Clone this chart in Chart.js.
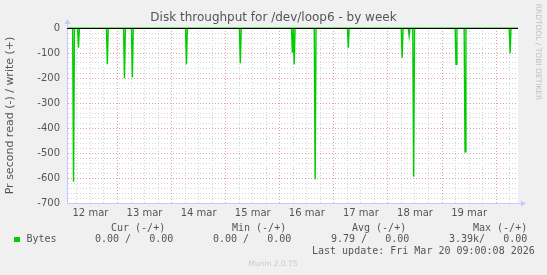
<!DOCTYPE html>
<html>
<head>
<meta charset="utf-8">
<script src="https://cdn.jsdelivr.net/npm/chart.js@4"></script>
<style>
  html, body { margin: 0; padding: 0; background: #f0f0f0; }
  #wrap { width: 547px; height: 275px; }
</style>
</head>
<body>
<div id="wrap"><canvas id="disk" width="547" height="275"></canvas></div>
<script>
// hours counted from 12 mar 00:00, read side drawn negative
const spikeHours = [4.5, 6.7, 19.5, 27.1, 30.6, 54.6, 78.5, 101.6, 102.4, 111.7, 126.4, 150.3, 153.4, 155.4, 174.2, 178.2, 198.2];
const readBytes  = [615, 79, 145, 201, 197, 145, 141, 99, 145, 605, 79, 119, 32, 595, 145, 495, 101];
const rangeHours = [1.6, 201.7];
const writeBytes = [0, 0];
const dayLabels = ['12 mar', '13 mar', '14 mar', '15 mar', '16 mar', '17 mar', '18 mar', '19 mar'];
const legendHead = ['Cur (-/+)', 'Min (-/+)', 'Avg (-/+)', 'Max (-/+)'];
const legendVals = ['0.00 /   0.00', '0.00 /   0.00', '9.79 /   0.00', '3.39k/   0.00'];

const GREEN = '#00cc00';
const AXIS = '#c8c8ff';

let readPoints = [{x: rangeHours[0], y: 0}];
spikeHours.forEach(function(h, i) {
    readPoints.push({x: h - 0.4, y: 0}, {x: h, y: -readBytes[i]}, {x: h + 0.4, y: 0});
});
readPoints.push({x: rangeHours[1], y: 0});
let writePoints = rangeHours.map(function(h, i) { return {x: h, y: writeBytes[i]}; });

const muninDeco = {
    id: 'muninDeco',
    beforeDraw: function(chart) {
        let c = chart.ctx, a = chart.chartArea;
        c.save();
        c.fillStyle = '#f0f0f0';
        c.fillRect(0, 0, chart.width, chart.height);
        c.fillStyle = '#ffffff';
        c.fillRect(a.left, a.top, a.right - a.left, a.bottom - a.top);
        c.restore();
    },
    afterDatasetsDraw: function(chart) {
        let c = chart.ctx, a = chart.chartArea;
        let y0 = Math.round(chart.scales.y.getPixelForValue(0)) + 0.5;
        c.save();
        c.strokeStyle = '#000';
        c.lineWidth = 1;
        c.beginPath();
        c.moveTo(a.left, y0);
        c.lineTo(a.right, y0);
        c.stroke();
        // axis arrows
        let xl = Math.round(a.left) + 0.5, yb = Math.round(a.bottom) + 0.5;
        c.strokeStyle = AXIS;
        c.fillStyle = AXIS;
        c.beginPath();
        c.moveTo(xl, a.top); c.lineTo(xl, a.top - 5);
        c.moveTo(a.right, yb); c.lineTo(a.right + 4, yb);
        c.stroke();
        c.beginPath();
        c.moveTo(xl - 3, a.top - 4); c.lineTo(xl + 3, a.top - 4); c.lineTo(xl, a.top - 9); c.closePath();
        c.moveTo(a.right + 3, yb - 3); c.lineTo(a.right + 3, yb + 3); c.lineTo(a.right + 8, yb); c.closePath();
        c.fill();
        c.restore();
    },
    afterDraw: function(chart) {
        let c = chart.ctx;
        c.save();
        c.textBaseline = 'middle';
        c.fillStyle = '#555';
        c.font = '10px "DejaVu Sans Mono"';
        let headX = [111, 232, 352, 473];
        let valX = [95, 213, 331, 449];
        legendHead.forEach(function(t, i) { c.fillText(t, headX[i], 228); });
        legendVals.forEach(function(t, i) { c.fillText(t, valX[i], 239.5); });
        c.fillText('Bytes', 26.5, 239.5);
        c.fillText('Last update: Fri Mar 20 09:00:08 2026', 312, 251.5);
        c.fillStyle = GREEN;
        c.fillRect(14, 237, 6, 5);
        c.fillStyle = '#c8c8c8';
        c.font = '7.5px "DejaVu Sans"';
        c.textAlign = 'center';
        c.fillText('Munin 2.0.75', 273, 264);
        c.translate(538, 52);
        c.rotate(Math.PI / 2);
        c.fillStyle = '#c0c0c0';
        c.fillText('RRDTOOL / TOBI OETIKER', 0, 0);
        c.restore();
    }
};

let ctx = document.getElementById('disk');
let diskChart = new Chart(ctx, {
    type: 'line',
    plugins: [muninDeco],
    data: {
        datasets: [{
            label: 'Bytes',
            data: readPoints,
            borderColor: GREEN,
            borderWidth: 1.4,
            pointRadius: 0,
            tension: 0
        }, {
            label: 'Bytes write',
            data: writePoints,
            borderColor: GREEN,
            borderWidth: 1,
            pointRadius: 0,
            clip: false
        }]
    },
    options: {
        responsive: false,
        animation: false,
        layout: { padding: 0 },
        plugins: {
            legend: { display: false },
            tooltip: { enabled: false },
            title: {
                display: true,
                text: 'Disk throughput for /dev/loop6 - by week',
                color: '#555',
                font: { family: 'DejaVu Sans', size: 12, weight: 'normal' },
                padding: { top: 11, bottom: 2.6 }
            }
        },
        scales: {
            x: {
                type: 'linear',
                min: rangeHours[0],
                max: rangeHours[1],
                ticks: {
                    stepSize: 6,
                    includeBounds: false,
                    autoSkip: false,
                    maxRotation: 0,
                    padding: 4,
                    color: '#555',
                    font: { family: 'DejaVu Sans', size: 10 },
                    callback: function(v) { return v % 24 === 12 ? dayLabels[(v - 12) / 24] : ''; }
                },
                grid: {
                    drawTicks: false,
                    color: function(c) { return c.tick && c.tick.value % 24 === 0 ? 'rgba(225,120,120,0.7)' : '#d4d4d4'; }
                },
                border: { color: AXIS, dash: [1, 2] },
                afterFit: function(s) { s.height = 72; }
            },
            y: {
                min: -700,
                max: 0,
                ticks: {
                    stepSize: 20,
                    autoSkip: false,
                    padding: 7,
                    color: '#555',
                    font: { family: 'DejaVu Sans', size: 10 },
                    callback: function(v) { return v % 100 === 0 ? v : ''; }
                },
                grid: {
                    drawTicks: false,
                    color: function(c) { return c.tick && c.tick.value % 100 === 0 ? 'rgba(225,120,120,0.7)' : '#d4d4d4'; }
                },
                border: { color: AXIS, dash: [1, 2] },
                title: {
                    display: true,
                    text: 'Pr second read (-) / write (+)',
                    color: '#555',
                    font: { family: 'DejaVu Sans', size: 11 },
                    padding: { top: 4, bottom: 0 }
                },
                afterFit: function(s) { s.width = 67; }
            },
            // empty right margin, keeps the title centred on the whole image
            yRight: {
                position: 'right',
                min: -700,
                max: 0,
                ticks: { display: false },
                grid: { display: false, drawTicks: false },
                border: { display: false },
                afterFit: function(s) { s.width = 29; }
            }
        }
    }
});
</script>
</body>
</html>
